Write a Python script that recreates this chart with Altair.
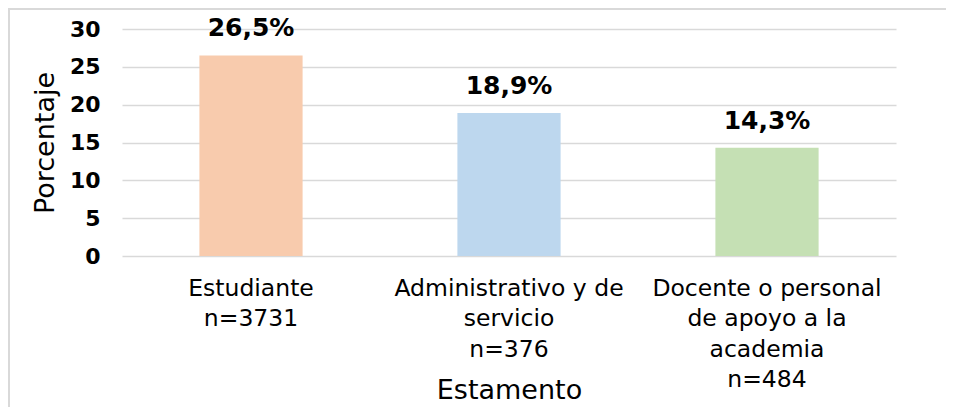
import altair as alt
import pandas as pd

categories = ["Estudiante", "Administrativo y de servicio", "Docente o personal de apoyo a la academia"]
label_lines = [
    ["Estudiante", "n=3731"],
    ["Administrativo y de", "servicio", "n=376"],
    ["Docente o personal", "de apoyo a la", "academia", "n=484"],
]
values = [26.5, 18.9, 14.3]
value_labels = ["26,5%", "18,9%", "14,3%"]
colors = ["#F8CBAD", "#BDD7EE", "#C5E0B4"]
y_ticks = [0, 5, 10, 15, 20, 25, 30]

df = pd.DataFrame({
    "cat": ["|".join(l) for l in label_lines],
    "name": categories,
    "value": values,
    "txt": value_labels,
})
order = list(df["cat"])

FONT = "DejaVu Sans"

x = alt.X(
    "cat:N", sort=order,
    scale=alt.Scale(paddingInner=0.6, paddingOuter=0.3),
    axis=alt.Axis(
        title="Estamento", labelExpr="split(datum.value, '|')", labelAngle=0,
        labelFontSize=23.5, labelFont=FONT, labelColor="#000000", labelLineHeight=30.5,
        labelPadding=20, labelBaseline="top", labelLimit=0, labelOverlap=False,
        domain=False, ticks=False, titleFont=FONT, titleFontSize=27,
        titleFontWeight="normal", titleColor="#000000", titleY=121, titleBaseline="top",
    ),
)
y = alt.Y(
    "value:Q", scale=alt.Scale(domain=[0, 30]),
    axis=alt.Axis(
        title="Porcentaje", values=y_ticks, tickCount=7, labelOverlap=False,
        grid=True, gridColor="#d9d9d9", gridWidth=1.5, domain=False, ticks=False,
        labelFont=FONT, labelFontSize=22, labelFontWeight="bold", labelColor="#000000",
        labelPadding=22, titleFont=FONT, titleFontSize=27, titleFontWeight="normal",
        titleColor="#000000", titlePadding=10,
    ),
)

base = alt.Chart(df).encode(x=x, y=y)

bars = base.mark_bar().encode(
    color=alt.Color("cat:N", sort=order, scale=alt.Scale(domain=order, range=colors), legend=None),
)

texts = base.mark_text(
    baseline="alphabetic", dy=-19, font=FONT, fontSize=25, fontWeight="bold", color="#000000"
).encode(text="txt:N")

border_top = alt.Chart(df).mark_rule(color="#d9d9d9", strokeWidth=2).encode(
    x=alt.value(-113), x2=alt.value(836), y=alt.value(-20)
)
border_left = alt.Chart(df).mark_rule(color="#d9d9d9", strokeWidth=2).encode(
    x=alt.value(-113), y=alt.value(-21), y2=alt.value(380)
)

chart = alt.layer(bars, texts, border_top, border_left).properties(
    width=774, height=227,
    autosize=alt.AutoSizeParams(type="none"),
    padding={"left": 114, "top": 21, "right": 50, "bottom": 151},
).configure_view(stroke=None)

chart.save("out.html", embed_options={"renderer": "svg", "actions": False})
